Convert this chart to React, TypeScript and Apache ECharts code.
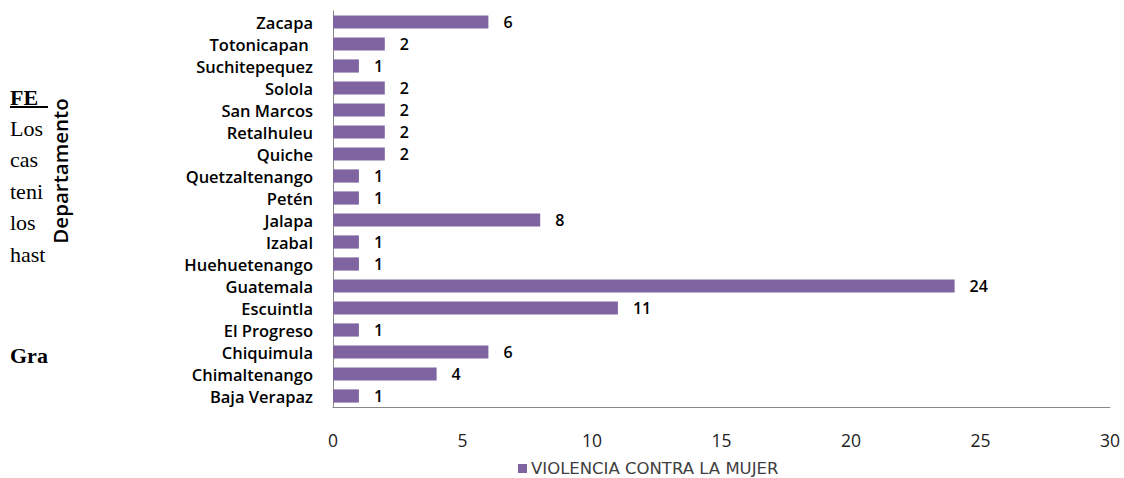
import React, { useEffect, useRef } from "react";
import * as echarts from "echarts";

const categories = [
  "Baja Verapaz",
  "Chimaltenango",
  "Chiquimula",
  "El Progreso",
  "Escuintla",
  "Guatemala",
  "Huehuetenango",
  "Izabal",
  "Jalapa",
  "Petén",
  "Quetzaltenango",
  "Quiche",
  "Retalhuleu",
  "San Marcos",
  "Solola",
  "Suchitepequez",
  "Totonicapan ",
  "Zacapa",
];
const values = [1, 4, 6, 1, 11, 24, 1, 1, 8, 1, 1, 2, 2, 2, 2, 1, 2, 6];
const seriesName = "VIOLENCIA CONTRA LA MUJER";
const axisTitle = "Departamento";
const pageFragments = ["Los", "cas", "teni", "los", "hast"];

export default function App() {
  const ref = useRef<HTMLDivElement>(null);
  useEffect(() => {
    if (!ref.current) return;
    const chart = echarts.init(ref.current, null, { renderer: "svg" });
    const serif = "Liberation Serif";
    const graphics: any[] = [
      {
        type: "text",
        x: 10,
        y: 97,
        style: {
          text: "FE",
          fontFamily: serif,
          fontSize: 22,
          fontWeight: "bold",
          fill: "#000",
          verticalAlign: "middle",
        },
      },
      {
        type: "rect",
        shape: { x: 10, y: 106, width: 38, height: 2 },
        style: { fill: "#000" },
      },
      {
        type: "text",
        x: 10,
        y: 355,
        style: {
          text: "Gra",
          fontFamily: serif,
          fontSize: 22,
          fontWeight: "bold",
          fill: "#000",
          verticalAlign: "middle",
        },
      },
      ...pageFragments.map((t, i) => ({
        type: "text",
        x: 10,
        y: 128 + i * 31.6,
        style: {
          text: t,
          fontFamily: serif,
          fontSize: 22,
          fill: "#000",
          verticalAlign: "middle",
        },
      })),
      {
        type: "text",
        x: 60,
        y: 171,
        rotation: Math.PI / 2,
        style: {
          text: axisTitle,
          fontFamily: "Open Sans",
          fontSize: 20.5,
          fontWeight: 600,
          fill: "#000",
          align: "center",
          verticalAlign: "middle",
        },
      },
    ];
    chart.setOption({
      animation: false,
      backgroundColor: "#fff",
      grid: { left: 333, right: 14, top: 11, bottom: 71 },
      legend: {
        left: 518,
        top: 460,
        padding: 0,
        icon: "rect",
        itemWidth: 9,
        itemHeight: 9,
        itemGap: 4,
        textStyle: { fontFamily: "DejaVu Sans", fontSize: 16.5, color: "#404040", padding: [0, 0, 0, -1] },
        data: [seriesName],
      },
      xAxis: {
        type: "value",
        min: 0,
        max: 30,
        interval: 5,
        axisLine: { show: true, lineStyle: { color: "#888", width: 1 } },
        axisTick: { show: false },
        splitLine: { show: false },
        axisLabel: {
          margin: 24,
          fontFamily: "Open Sans",
          fontSize: 17.5,
          color: "#222",
        },
      },
      yAxis: {
        type: "category",
        data: categories,
        axisLine: { show: true, lineStyle: { color: "#888", width: 1 } },
        axisTick: { show: false },
        axisLabel: {
          interval: 0,
          margin: 20,
          fontFamily: "Open Sans",
          fontWeight: 600,
          fontSize: 16.5,
          color: "#000",
        },
      },
      series: [
        {
          name: seriesName,
          type: "bar",
          data: values,
          barCategoryGap: "40%",
          itemStyle: { color: "#8064A2" },
          label: {
            show: true,
            position: "right",
            distance: 15,
            fontFamily: "Open Sans",
            fontWeight: 600,
            fontSize: 16,
            color: "#000",
          },
        },
      ],
      graphic: graphics,
    });
    return () => chart.dispose();
  }, []);
  return (
    <div
      ref={ref}
      style={{ position: "fixed", left: 0, top: 0, width: 1124, height: 478 }}
    />
  );
}
